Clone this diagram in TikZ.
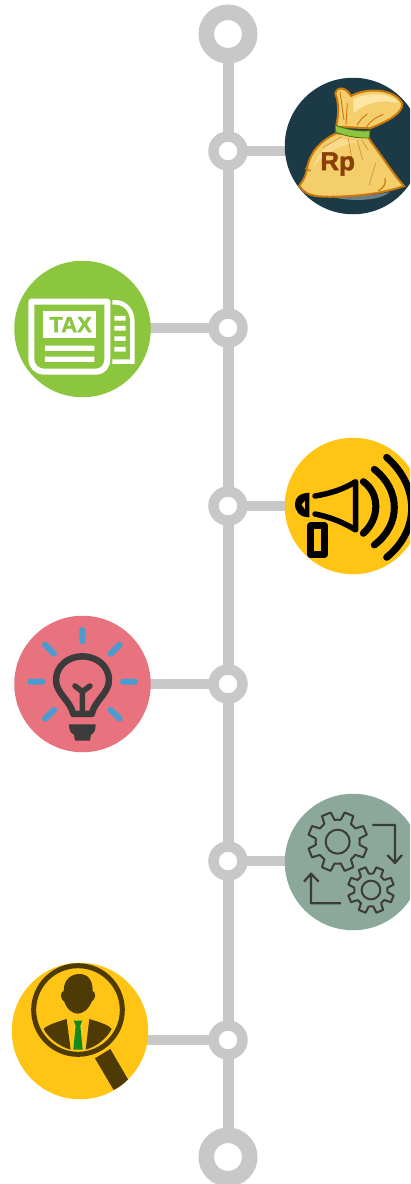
\documentclass[tikz,border=0pt]{standalone}
\usepackage{fontspec}
\setmainfont{Liberation Sans}
\newfontfamily\heavyfont[FakeBold=1.6]{Liberation Sans Bold}
\usetikzlibrary{backgrounds}
\definecolor{railgrey}{HTML}{C8C8C8}
\definecolor{navy}{HTML}{1C3A46}
\definecolor{taxgreen}{HTML}{8CC63F}
\definecolor{amber}{HTML}{FFC414}
\definecolor{rose}{HTML}{E8727E}
\definecolor{sage}{HTML}{8BA89B}
\definecolor{bagfill}{HTML}{F5CE6C}
\definecolor{baglight}{HTML}{FBE6A4}
\definecolor{bagedge}{HTML}{C9780C}
\definecolor{bagbrown}{HTML}{8A3F06}
\definecolor{bandgreen}{HTML}{8CC63F}
\definecolor{bulbblue}{HTML}{4A9BD0}
\definecolor{dark}{HTML}{3B3B3B}
\definecolor{manbrown}{HTML}{4E3A05}
\definecolor{tiegreen}{HTML}{128A1E}
\tikzset{
  x=1pt,y=-1pt,
  bigring/.style={circle,draw=railgrey,fill=white,line width=15.5pt,minimum size=43.5pt,inner sep=0pt},
  smallring/.style={circle,draw=railgrey,fill=white,line width=10.5pt,minimum size=29pt,inner sep=0pt},
  icondisc/.style={circle,inner sep=0pt,minimum size=136.5pt},
  rail/.style={draw=railgrey,line width=11pt},
  spur/.style={draw=railgrey,line width=10pt},
  zoomed/.style={shift={#1},x=0.3333pt,y=-0.3333pt},
}
\begin{document}
\begin{tikzpicture}
\useasboundingbox (0,0) rectangle (410,1184);
\clip (0,0) rectangle (410,1184);
\node[bigring] (top) at (228,34) {};
\node[smallring] (r1) at (228,151) {};
\node[smallring] (r2) at (228,328) {};
\node[smallring] (r3) at (228,506) {};
\node[smallring] (r4) at (228,684) {};
\node[smallring] (r5) at (228,861) {};
\node[smallring] (r6) at (228,1040) {};
\node[bigring] (bottom) at (228,1157) {};
\node[icondisc,fill=navy] (money) at (353,146) {};
\node[icondisc,fill=taxgreen] (tax) at (82.5,329) {};
\node[icondisc,fill=amber] (horn) at (353,506) {};
\node[icondisc,fill=rose] (idea) at (82.5,684) {};
\node[icondisc,fill=sage] (gears) at (353,862) {};
\node[icondisc,fill=amber] (person) at (80,1031) {};
\begin{scope}[on background layer]
\draw[rail] (top.center) -- (bottom.center);
\draw[spur] (r1.center) -- (r1.center -| money.center);
\draw[spur] (r2.center) -- (r2.center -| tax.center);
\draw[spur] (r3.center) -- (r3.center -| horn.center);
\draw[spur] (r4.center) -- (r4.center -| idea.center);
\draw[spur] (r5.center) -- (r5.center -| gears.center);
\draw[spur] (r6.center) -- (r6.center -| person.center);
\end{scope}
% money bag
\begin{scope}[zoomed={(270,70)}]
\fill[navy!65!white] (190,382) .. controls (250,380) and (320,375) .. (360,366) .. controls (330,392) and (250,396) .. (190,382) -- cycle;
\draw[bagedge,line width=2pt,fill=bagfill] (198,170) .. controls (208,130) and (205,90) .. (196,72) .. controls (198,50) and (228,48) .. (243,78)
 .. controls (290,52) and (372,55) .. (397,100) .. controls (400,130) and (350,155) .. (300,175) -- cycle;
\fill[baglight] (250,88) .. controls (290,66) and (360,66) .. (388,100) .. controls (340,88) and (290,95) .. (250,130) -- cycle;
\draw[bagedge,line width=.9pt] (232,100) -- (228,165) (262,165) .. controls (270,150) and (280,140) .. (292,132) (290,170) .. controls (305,150) and (320,140) .. (340,133) (210,65) -- (222,150);
\draw[bagedge,line width=2pt,fill=bagfill] (198,190) .. controls (150,215) and (125,240) .. (112,290) .. controls (108,320) and (100,330) .. (88,347) .. controls (105,375) and (130,382) .. (200,380) .. controls (270,378) and (340,370) .. (402,348) .. controls (380,325) and (350,280) .. (325,245) .. controls (310,225) and (295,205) .. (295,200) -- cycle;
\fill[baglight,opacity=.6] (200,205) .. controls (170,225) and (145,250) .. (130,290) .. controls (170,240) and (230,220) .. (270,215) -- cycle;
\draw[bagedge!75,line width=.8pt] (215,200) -- (160,232) (235,205) -- (245,265) (262,210) -- (278,270) (275,210) -- (295,240) (318,278) .. controls (310,300) and (305,320) .. (298,345);
\draw[bagedge,line width=1.2pt] (345,325) .. controls (350,340) and (340,355) .. (325,362) (105,295) -- (122,303);
\draw[black!45!bandgreen,line width=.8pt,fill=bandgreen] (196,165) .. controls (230,180) and (270,185) .. (300,182) -- (298,204) .. controls (260,205) and (225,198) .. (196,186) -- cycle;
\node[font=\heavyfont,text=bagbrown,scale=2.6] (rp) at (203,282) {Rp};
\end{scope}
% tax
\begin{scope}[zoomed={(5,255)}]
\draw[white,line width=6pt,line join=round] (79,140) -- (307,140) -- (307,310) .. controls (307,335) and (295,350) .. (270,350) -- (120,350) .. controls (95,350) and (79,335) .. (79,310) -- cycle;
\draw[white,line width=4.5pt] (322,142) -- (330,142) .. controls (360,142) and (382,165) .. (382,200) -- (382,320) -- (322,320);
\fill[white] (115,168) rectangle (272,250);
\fill[white] (120,272) rectangle (268,288) (120,305) rectangle (268,321);
\fill[white] (328,183) rectangle (362,197) (328,213) rectangle (362,227) (328,244) rectangle (362,258) (328,276) rectangle (362,290);
\node[text=taxgreen,font=\heavyfont,scale=2.2] (taxword) at (197,209) {TAX};
\end{scope}
% horn
\begin{scope}[zoomed={(275,430)},line cap=round,line join=round]
\draw[black,line width=5.5pt] (120,198) .. controls (170,190) and (210,175) .. (242,155) -- (242,300) .. controls (210,280) and (170,262) .. (120,252);
\fill[black] (103,188) .. controls (70,190) and (60,205) .. (60,222) .. controls (60,245) and (75,262) .. (103,262) -- cycle;
\fill[amber] (90,212) -- (80,224) -- (90,238) -- cycle;
\draw[black,line width=6.5pt] (107,287) rectangle (149,373);
\draw[black,line width=7pt] (265,155) .. controls (315,190) and (315,265) .. (265,310);
\draw[black,line width=7pt] (298,118) .. controls (378,180) and (378,285) .. (298,345);
\draw[black,line width=7pt] (335,82) .. controls (435,170) and (435,300) .. (335,382);
\end{scope}
% bulb
\begin{scope}[zoomed={(5,610)},line cap=round,line join=round]
\draw[bulbblue,line width=6pt] (232,60) -- (232,94) (120,104) -- (147,131) (344,104) -- (317,131) (76,215) -- (112,215) (354,215) -- (390,215) (120,326) -- (147,300) (344,326) -- (317,300);
\draw[dark,line width=6.5pt] (205,312) .. controls (195,270) and (153,250) .. (153,210) .. controls (153,168) and (190,139) .. (232,139) .. controls (275,139) and (312,168) .. (312,210) .. controls (312,250) and (270,270) .. (260,312) -- cycle;
\draw[dark,line width=5.5pt] (232,312) -- (232,245) (210,228) -- (232,245) -- (255,228);
\fill[dark] (192,343) -- (272,343) .. controls (272,360) and (268,370) .. (258,374) -- (255,392) -- (210,392) -- (207,374) .. controls (197,370) and (192,360) .. (192,343) -- cycle;
\end{scope}
% gears
\begin{scope}[zoomed={(275,785)},line join=round]
\foreach \cx/\cy/\ro/\ri/\hole/\nt in {188/170/90/66/36/8,288/315/70/50/28/8}{
  \pgfmathsetmacro{\st}{360/\nt}
  \draw[dark,line width=2pt] (\cx,\cy) circle (\hole);
  \draw[dark,line width=2pt,rotate around={22.5:(\cx,\cy)}]
   \foreach \k in {1,...,\nt}{
     ([shift={(\cx,\cy)}]\k*\st-\st*0.32:\ri) -- ([shift={(\cx,\cy)}]\k*\st-\st*0.2:\ro) -- ([shift={(\cx,\cy)}]\k*\st+\st*0.2:\ro) -- ([shift={(\cx,\cy)}]\k*\st+\st*0.32:\ri)
     arc[start angle=\k*\st+\st*0.32,end angle=\k*\st+\st*0.68,radius=\ri]
   };
}
\draw[dark,line width=2.2pt] (292,120) -- (360,120) -- (360,232) (337,210) -- (360,234) -- (381,210);
\draw[dark,line width=2.2pt] (198,355) -- (108,355) -- (108,268) (87,290) -- (108,266) -- (131,290);
\end{scope}
% person
\begin{scope}[zoomed={(5,955)}]
\fill[manbrown] (270,310) -- (316,282) -- (369,373) .. controls (355,388) and (340,398) .. (326,405) -- cycle;
\draw[manbrown,line width=5pt] (219,165) circle (133);
\fill[manbrown] (176,108) .. controls (176,68) and (205,57) .. (222,57) .. controls (250,57) and (263,75) .. (263,108) .. controls (274,110) and (272,135) .. (260,140) .. controls (250,165) and (232,176) .. (218,176) .. controls (205,176) and (186,165) .. (178,140) .. controls (166,135) and (164,110) .. (176,108) -- cycle;
\fill[manbrown] (185,192) -- (197,284) .. controls (165,275) and (130,250) .. (116,222) .. controls (125,210) and (160,200) .. (185,192) -- cycle;
\fill[manbrown] (253,192) -- (242,284) .. controls (275,275) and (305,250) .. (320,222) .. controls (312,210) and (280,200) .. (253,192) -- cycle;
\fill[tiegreen] (206,197) -- (232,197) -- (226,212) -- (233,284) -- (205,284) -- (212,212) -- cycle;
\end{scope}
\end{tikzpicture}
\end{document}
